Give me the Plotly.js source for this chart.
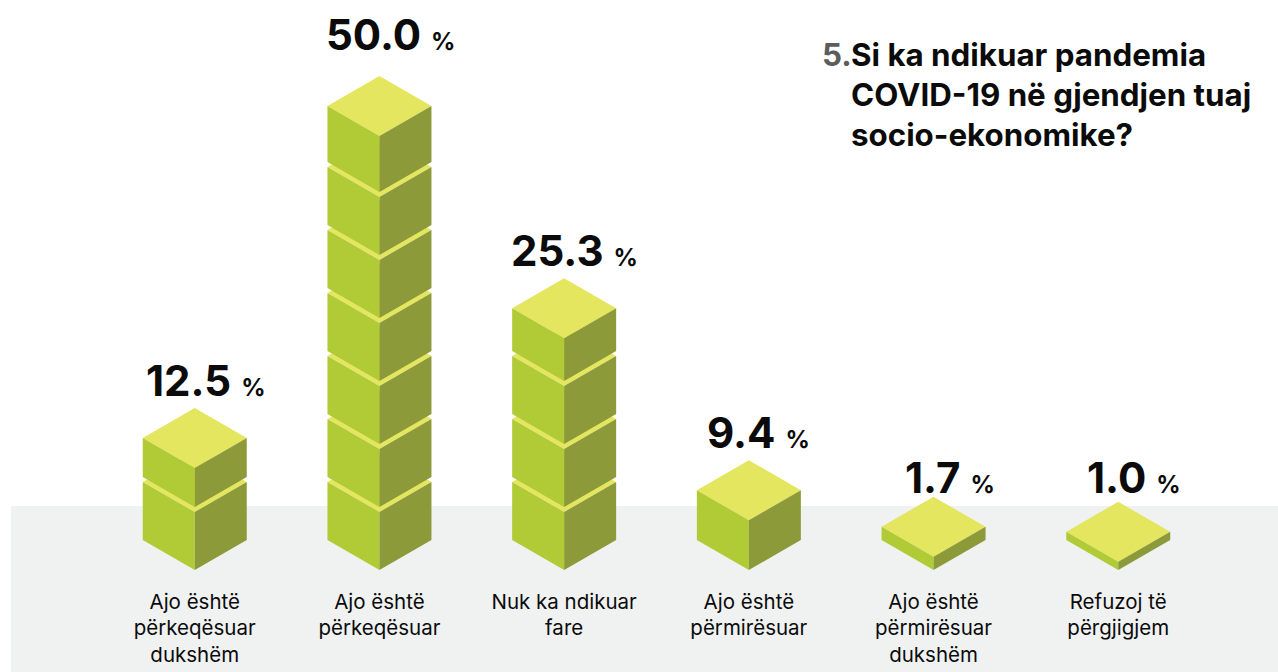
<!DOCTYPE html>
<html>
<head>
<meta charset="utf-8">
<script src="https://cdn.plot.ly/plotly-3.0.1.min.js"></script>
<style>html,body{margin:0;padding:0;background:#fff;overflow:hidden}#chart{width:1278px;height:672px}</style>
</head>
<body>
<div id="chart"></div>
<script>
// ---- data ----
const categories = [
  "Ajo është<br>përkeqësuar<br>dukshëm",
  "Ajo është<br>përkeqësuar",
  "Nuk ka ndikuar<br>fare",
  "Ajo është<br>përmirësuar",
  "Ajo është<br>përmirësuar<br>dukshëm",
  "Refuzoj të<br>përgjigjem"
];
const percentages = ["12.5", "50.0", "25.3", "9.4", "1.7", "1.0"];
// stack height of each column, in cubes
const stackHeights = [1.62, 6.89, 3.68, 0.79, 0.21, 0.13];
const titleNumber = "5.";
const titleLines = ["Si ka ndikuar pandemia", "COVID-19 në gjendjen tuaj", "socio-ekonomike?"];

// ---- styling / geometry of the isometric cubes (axis units) ----
const W = 1278, H = 672, MB = 90;
const unitX = 184.7, unitY = 63;           // px per slot, px per cube
const halfW = 52 / unitX, halfH = 30 / unitY;
const sideH = 58 / unitY;                  // cube side below the seam
const COL = {top: "#e3e65e", left: "#b0cb35", right: "#8c9a39", band: "#f0f2f2", ink: "#0b0b0b", grey: "#5c5c5c"};
const FONT = "Inter, Liberation Sans, Arial, sans-serif";
// label nudges in px
const labelLift = [10, 24, 10, 10, 2, 7];
const labelShift = [11, 11, 10, 10, 16, 16];

const topX = [], topY = [], leftX = [], leftY = [], rightX = [], rightY = [];
function add(xs, ys, px, py) { px.forEach((v, j) => { xs.push(v); ys.push(py[j]); }); xs.push(null); ys.push(null); }
stackHeights.forEach((h, i) => {
  for (let k = 0; k < h; k++) {
    const b = k, t = Math.min(k + sideH, h);
    add(leftX, leftY, [i - halfW, i, i, i - halfW, i - halfW], [b + halfH, b, t, t + halfH, b + halfH]);
    add(rightX, rightY, [i, i + halfW, i + halfW, i, i], [b, b + halfH, t + halfH, t, b]);
    add(topX, topY, [i, i + halfW, i, i - halfW, i], [t, t + halfH, t + 2 * halfH, t + halfH, t]);
  }
});
const face = (x, y, c) => ({type: "scatter", mode: "lines", x, y, fill: "toself", fillcolor: c, line: {width: 0, color: c}, hoverinfo: "skip", showlegend: false});
const traces = [face(topX, topY, COL.top), face(leftX, leftY, COL.left), face(rightX, rightY, COL.right)];

const annotations = percentages.map((p, i) => ({
  x: i, y: stackHeights[i] + 2 * halfH, xref: "x", yref: "y",
  xanchor: "center", yanchor: "bottom", showarrow: false, xshift: labelShift[i], yshift: labelLift[i] - 10,
  text: '<b>' + p + '\u00a0</b><b style="font-size:24px">%</b>',
  font: {family: FONT, size: 42, color: COL.ink}
}));
titleLines.forEach((line, i) => annotations.push({
  xref: "paper", yref: "paper", x: 849 / W, y: 1, xanchor: "left", yanchor: "top", showarrow: false, align: "left",
  yshift: -34 - 40 * i, text: "<b>" + line + "</b>",
  font: {family: FONT, size: 31.3, color: COL.ink}
}));
annotations.push({
  xref: "paper", yref: "paper", x: 820 / W, y: 1, xanchor: "left", yanchor: "top", showarrow: false,
  yshift: -34, text: "<b>" + titleNumber + "</b>", font: {family: FONT, size: 31.3, color: COL.grey}
});

const layout = {
  width: W, height: H, margin: {l: 0, r: 0, t: 0, b: MB},
  paper_bgcolor: "#ffffff", plot_bgcolor: "rgba(0,0,0,0)", showlegend: false,
  xaxis: {
    range: [-194.75 / unitX, (W - 194.75) / unitX], fixedrange: true, showgrid: false, zeroline: false, showline: false,
    tickmode: "array", tickvals: categories.map((_, i) => i), ticktext: categories,
    ticks: "outside", ticklen: 1, tickcolor: "rgba(0,0,0,0)",
    tickfont: {family: FONT, size: 20.5, color: COL.ink}
  },
  yaxis: {range: [-12 / unitY, 570 / unitY], fixedrange: true, visible: false},
  shapes: [{
    type: "rect", layer: "below", xref: "paper", yref: "paper",
    x0: 11 / W, x1: 1, y0: -MB / (H - MB), y1: (582 - 506) / (H - MB),
    fillcolor: COL.band, line: {width: 0}
  }],
  annotations
};
Plotly.newPlot("chart", traces, layout, {displayModeBar: false, staticPlot: true});
</script>
</body>
</html>
